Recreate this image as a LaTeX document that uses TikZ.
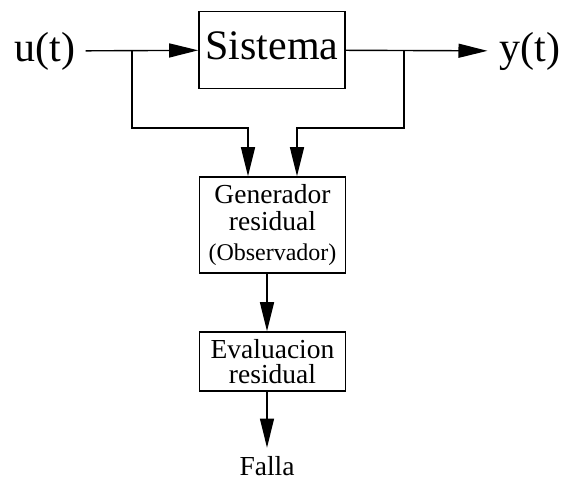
\documentclass[tikz,border=0pt]{standalone}
\usepackage{fontspec}
\setmainfont{Liberation Serif}
\usetikzlibrary{arrows.meta}
\tikzstyle{block}=[draw, line width=1.6pt, inner sep=0pt, align=center]
\tikzstyle{signal}=[-{Triangle[length=29pt, width=14pt]}, line width=1.4pt]
\newcommand{\bigtxt}{\fontsize{42}{44}\selectfont}
\newcommand{\midtxt}{\fontsize{27.5}{27}\selectfont}
\newcommand{\smalltxt}{\fontsize{24}{24}\selectfont}

\begin{document}
\begin{tikzpicture}[x=1pt, y=-1pt]

    \useasboundingbox (0, 0) rectangle (565, 480);

    \node[font=\bigtxt, inner sep=10pt] (u) at (45, 51) {u(t)};
    \node[block, font=\bigtxt, text depth=8pt, minimum width=146pt, minimum height=77pt] (sys) at (272, 50) {Sistema};
    \node[font=\bigtxt, inner sep=12pt] (y) at (530, 51) {y(t)};
    \node[block, font=\midtxt, minimum width=146pt, minimum height=96pt] (gen) at (272.5, 225) {Generador\\residual\\[3pt]{\smalltxt(Observador)}};
    \node[block, font=\midtxt, minimum width=146pt, minimum height=59pt] (eval) at (272.5, 361.5) {Evaluacion\\[-2pt]residual};
    \node[font=\midtxt, inner sep=0pt] (falla) at (267, 466.5) {Falla};

    \coordinate (bl) at (132, 51);
    \coordinate (br) at (404, 51);

    \draw[signal] (u) -- (sys);
    \draw[signal] (sys) -- (y);
    \draw[signal] (bl) -- (132, 128) -| ([xshift=-24.5pt]gen.north);
    \draw[signal] (br) -- (404, 128) -| ([xshift=24.5pt]gen.north);
    \draw[signal] ([xshift=-5.5pt]gen.south) -- ([xshift=-5.5pt]eval.north);
    \draw[signal] (falla.north |- eval.south) -- ([yshift=9pt]falla.north);

\end{tikzpicture}
\end{document}
